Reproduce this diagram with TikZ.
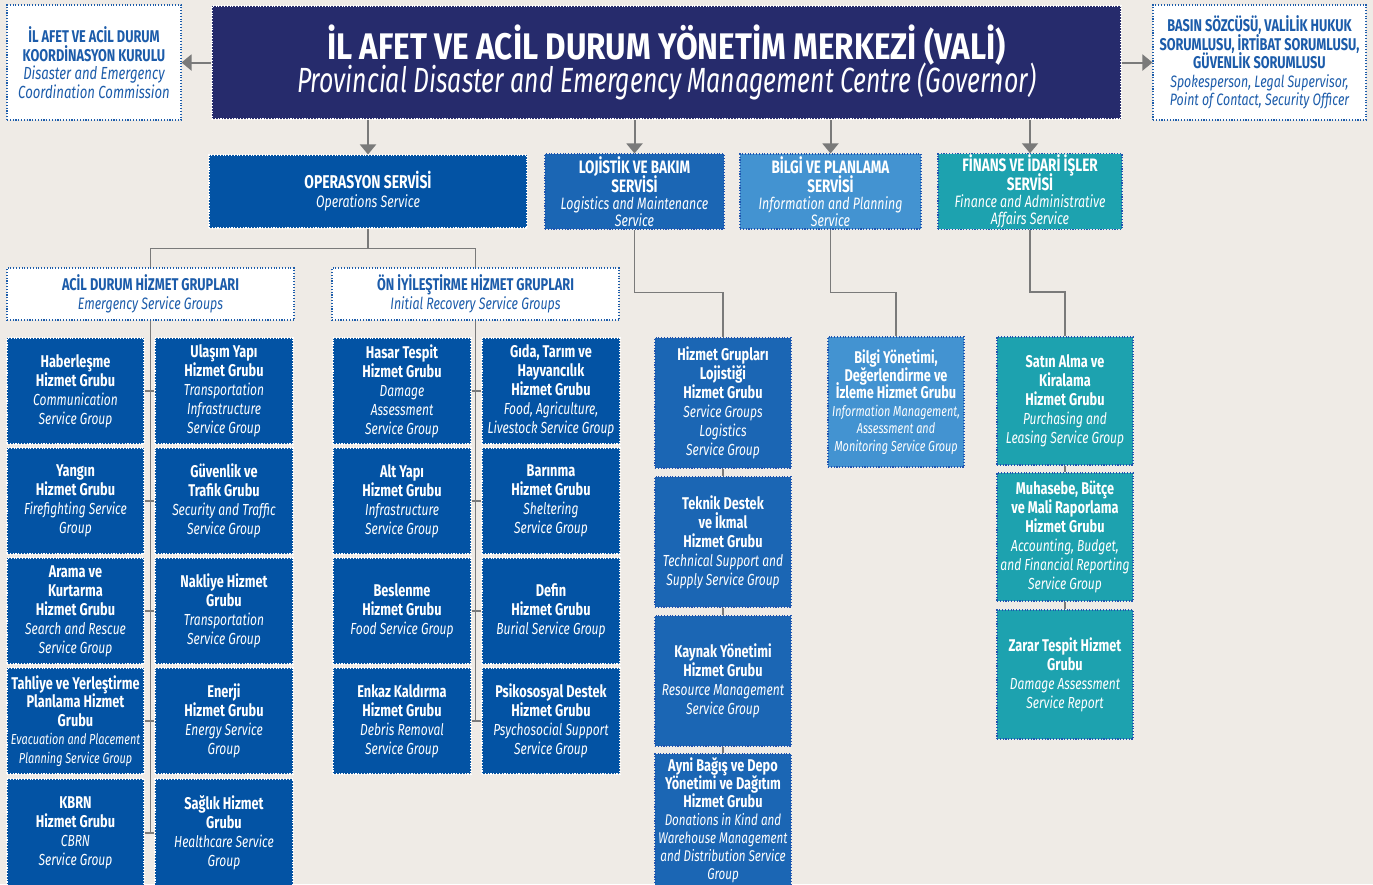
\documentclass[tikz,border=0pt]{standalone}
\usepackage{fontspec}
\setmainfont{Fira Sans}[FakeStretch=0.75]
\newfontfamily\titlefont{Fira Sans}[FakeStretch=0.85]
\newfontfamily\subfont{Fira Sans}[FakeStretch=0.71]
\usetikzlibrary{arrows.meta}
\definecolor{cbg}{HTML}{EFEBE6}
\definecolor{cnavy}{HTML}{262B6C}
\definecolor{cops}{HTML}{0353A4}
\definecolor{clog}{HTML}{1B66B4}
\definecolor{cinfo}{HTML}{4393D1}
\definecolor{cfin}{HTML}{1DA2AF}
\definecolor{cside}{HTML}{1C5CAA}
\definecolor{cdot}{HTML}{1F55B0}
\definecolor{cgray}{HTML}{7A7A7A}
\newcommand\tr[1]{{\fontsize{17}{19}\selectfont\bfseries #1}}
\newcommand\trs[2]{{\fontsize{#1}{#1}\selectfont\bfseries #2}}
\newcommand\en[1]{{\itshape #1}}
\newcommand\ens[2]{{\fontsize{#1}{#1}\selectfont\itshape #2}}
\newcommand\bx[7]{\node[#1, minimum width={#5-#3}, minimum height={#6-#4}] (#2) at ({(#3+#5)/2},{(#4+#6)/2}) {#7};}
\tikzset{
  box/.style={inner sep=1pt, align=center, font=\fontsize{16}{19}\selectfont, line width=1.1pt, dash pattern=on 1.1pt off 1.7pt,
    execute at begin node={\lineskiplimit=-100pt\lineskip=0pt}},
  opsbox/.style={box, fill=cops, draw=white, text=white},
  logbox/.style={box, fill=clog, draw=cdot, text=white},
  infobox/.style={box, fill=cinfo, draw=cdot, text=white},
  finbox/.style={box, fill=cfin, draw=cdot, text=white},
  sidebox/.style={box, fill=white, draw=cside, text=cside},
  svc/.style={font=\fontsize{16.5}{17}\selectfont},
  conn/.style={draw=cgray, line width=1.6pt},
  arr/.style={draw=cgray, line width=2pt, -{Triangle[width=16pt,length=10pt]}},
}
\begin{document}
\begin{tikzpicture}[x=1pt,y=-1pt]
\clip (0,0) rectangle (1373,884);
\fill[cbg] (0,0) rectangle (1373,884);

% top level
\bx{box, fill=cnavy, draw=white, text=white, font=\fontsize{35}{33}\selectfont}{top}{212}{6}{1121}{119}{{\titlefont\fontsize{37}{37}\selectfont\bfseries İL AFET VE ACİL DURUM YÖNETİM MERKEZİ (VALİ)}\\{\subfont\fontsize{35}{35}\selectfont\itshape Provincial Disaster and Emergency Management Centre (Governor)}}
\bx{sidebox, font=\fontsize{17.5}{18.5}\selectfont}{kurul}{7}{5}{181}{120}{\tr{İL AFET VE ACİL DURUM}\\\tr{KOORDİNASYON KURULU}\\\en{Disaster and Emergency}\\\en{Coordination Commission}}
\bx{sidebox, font=\fontsize{16.5}{18.5}\selectfont}{basin}{1153}{5}{1366}{120}{\trs{17}{BASIN SÖZCÜSÜ, VALİLİK HUKUK}\\\trs{17}{SORUMLUSU, İRTİBAT SORUMLUSU,}\\\trs{17}{GÜVENLİK SORUMLUSU}\\\en{Spokesperson, Legal Supervisor,}\\\en{Point of Contact, Security Officer}}

% services
\bx{opsbox, svc, font=\fontsize{16.5}{19}\selectfont}{ops}{209}{155}{527}{228}{\trs{18.5}{OPERASYON SERVİSİ}\\\en{Operations Service}}
\bx{logbox, svc}{lo}{545}{154}{724}{229}{\trs{18}{LOJİSTİK VE BAKIM}\\[2pt]\trs{18}{SERVİSİ}\\\en{Logistics and Maintenance}\\\en{Service}}
\bx{infobox, svc}{bi}{740}{154}{921}{229}{\trs{18}{BİLGİ VE PLANLAMA}\\[2pt]\trs{18}{SERVİSİ}\\\en{Information and Planning}\\\en{Service}}
\bx{finbox, svc}{fi}{938}{154}{1122}{229}{\trs{18}{FİNANS VE İDARİ İŞLER}\\[2pt]\trs{18}{SERVİSİ}\\\en{Finance and Administrative}\\\en{Affairs Service}}

% group headers
\bx{sidebox, font=\fontsize{16.5}{19}\selectfont}{acil}{7}{268}{294}{320}{\tr{ACİL DURUM HİZMET GRUPLARI}\\\en{Emergency Service Groups}}
\bx{sidebox, font=\fontsize{16.5}{19}\selectfont}{on}{332}{268}{619}{320}{\tr{ÖN İYİLEŞTİRME HİZMET GRUPLARI}\\\en{Initial Recovery Service Groups}}

% emergency groups
\bx{opsbox}{a1}{7}{338}{144}{444}{\tr{Haberleşme}\\\tr{Hizmet Grubu}\\\en{Communication}\\\en{Service Group}}
\bx{opsbox}{b1}{155}{338}{293}{444}{\tr{Ulaşım Yapı}\\\tr{Hizmet Grubu}\\\en{Transportation}\\\en{Infrastructure}\\\en{Service Group}}
\bx{opsbox}{a2}{7}{448}{144}{554}{\tr{Yangın}\\\tr{Hizmet Grubu}\\\en{Firefighting Service}\\\en{Group}}
\bx{opsbox}{b2}{155}{448}{293}{554}{\tr{Güvenlik ve}\\\tr{Trafik Grubu}\\\en{Security and Traffic}\\\en{Service Group}}
\bx{opsbox}{a3}{7}{558}{144}{664}{\tr{Arama ve}\\\tr{Kurtarma}\\\tr{Hizmet Grubu}\\\en{Search and Rescue}\\\en{Service Group}}
\bx{opsbox}{b3}{155}{558}{293}{664}{\tr{Nakliye Hizmet}\\\tr{Grubu}\\\en{Transportation}\\\en{Service Group}}
\bx{opsbox, font=\fontsize{16}{18.5}\selectfont}{a4}{7}{668}{144}{774}{\tr{Tahliye ve Yerleştirme}\\\tr{Planlama Hizmet}\\\tr{Grubu}\\\ens{14.5}{Evacuation and Placement}\\\ens{14.5}{Planning Service Group}}
\bx{opsbox}{b4}{155}{668}{293}{774}{\tr{Enerji}\\\tr{Hizmet Grubu}\\\en{Energy Service}\\\en{Group}}
\bx{opsbox}{a5}{7}{779}{144}{887}{\tr{KBRN}\\\tr{Hizmet Grubu}\\\en{CBRN}\\\en{Service Group}}
\bx{opsbox}{b5}{155}{779}{293}{887}{\tr{Sağlık Hizmet}\\\tr{Grubu}\\\en{Healthcare Service}\\\en{Group}}

% initial recovery groups
\bx{opsbox}{c1}{333}{338}{471}{444}{\tr{Hasar Tespit}\\\tr{Hizmet Grubu}\\\en{Damage}\\\en{Assessment}\\\en{Service Group}}
\bx{opsbox}{d1}{482}{338}{620}{444}{\tr{Gıda, Tarım ve}\\\tr{Hayvancılık}\\\tr{Hizmet Grubu}\\\en{Food, Agriculture,}\\\en{Livestock Service Group}}
\bx{opsbox}{c2}{333}{448}{471}{554}{\tr{Alt Yapı}\\\tr{Hizmet Grubu}\\\en{Infrastructure}\\\en{Service Group}}
\bx{opsbox}{d2}{482}{448}{620}{554}{\tr{Barınma}\\\tr{Hizmet Grubu}\\\en{Sheltering}\\\en{Service Group}}
\bx{opsbox}{c3}{333}{558}{471}{664}{\tr{Beslenme}\\\tr{Hizmet Grubu}\\\en{Food Service Group}}
\bx{opsbox}{d3}{482}{558}{620}{664}{\tr{Defin}\\\tr{Hizmet Grubu}\\\en{Burial Service Group}}
\bx{opsbox}{c4}{333}{668}{471}{774}{\tr{Enkaz Kaldırma}\\\tr{Hizmet Grubu}\\\en{Debris Removal}\\\en{Service Group}}
\bx{opsbox}{d4}{482}{668}{620}{774}{\tr{Psikososyal Destek}\\\tr{Hizmet Grubu}\\\en{Psychosocial Support}\\\en{Service Group}}

% logistics groups
\bx{logbox}{l1}{655}{338}{791}{468}{\tr{Hizmet Grupları}\\\tr{Lojistiği}\\\tr{Hizmet Grubu}\\\en{Service Groups}\\\en{Logistics}\\\en{Service Group}}
\bx{logbox}{l2}{655}{477}{791}{607}{\tr{Teknik Destek}\\\tr{ve İkmal}\\\tr{Hizmet Grubu}\\\en{Technical Support and}\\\en{Supply Service Group}}
\bx{logbox}{l3}{655}{616}{791}{746}{\tr{Kaynak Yönetimi}\\\tr{Hizmet Grubu}\\\en{Resource Management}\\\en{Service Group}}
\bx{logbox, font=\fontsize{15.5}{18}\selectfont}{l4}{655}{754}{791}{886}{\tr{Ayni Bağış ve Depo}\\\tr{Yönetimi ve Dağıtım}\\\tr{Hizmet Grubu}\\\en{Donations in Kind and}\\\en{Warehouse Management}\\\en{and Distribution Service}\\\en{Group}}

% information group
\bx{infobox, font=\fontsize{14.5}{17.5}\selectfont}{g1}{828}{337}{964}{467}{\tr{Bilgi Yönetimi,}\\\tr{Değerlendirme ve}\\\tr{İzleme Hizmet Grubu}\\\en{Information Management,}\\\en{Assessment and}\\\en{Monitoring Service Group}}

% finance groups
\bx{finbox}{f1}{997}{337}{1133}{465}{\tr{Satın Alma ve}\\\tr{Kiralama}\\\tr{Hizmet Grubu}\\\en{Purchasing and}\\\en{Leasing Service Group}}
\bx{finbox}{f2}{997}{473}{1133}{601}{\tr{Muhasebe, Bütçe}\\\tr{ve Mali Raporlama}\\\tr{Hizmet Grubu}\\\en{Accounting, Budget,}\\\en{and Financial Reporting}\\\en{Service Group}}
\bx{finbox}{f3}{997}{610}{1133}{739}{\tr{Zarar Tespit Hizmet}\\\tr{Grubu}\\\en{Damage Assessment}\\\en{Service Report}}

% arrows
\draw[arr] (top.west) -- (top.west -| kurul.east);
\draw[arr] (top.east) -- (top.east -| basin.west);
\draw[arr] (top.south -| ops.north) -- (ops.north);
\draw[arr] (top.south -| lo.north) -- (lo.north);
\draw[arr] (top.south -| bi.north) -- (bi.north);
\draw[arr] (top.south -| fi.north) -- (fi.north);

% connectors
\draw[conn] (ops.south) -- ++(0,20) -| (acil.north);
\draw[conn] (ops.south) ++(0,20) -| (on.north);
\draw[conn] (acil.south) -- (acil.south |- a5.east);
\foreach \i in {1,...,5} \draw[conn] (a\i.east) -- (b\i.west);
\draw[conn] (on.south) -- (on.south |- c4.east);
\foreach \i in {1,...,4} \draw[conn] (c\i.east) -- (d\i.west);
\draw[conn] (lo.south) -- ++(0,63) -| (l1.north);
\draw[conn] (l1.south) -- (l2.north);
\draw[conn] (l2.south) -- (l3.north);
\draw[conn] (l3.south) -- (l4.north);
\draw[conn] (bi.south) -- ++(0,63) -| (g1.north);
\draw[conn] (fi.south) -- ++(0,62) -| (f1.north);
\draw[conn] (f1.south) -- (f2.north);
\draw[conn] (f2.south) -- (f3.north);
\end{tikzpicture}
\end{document}
